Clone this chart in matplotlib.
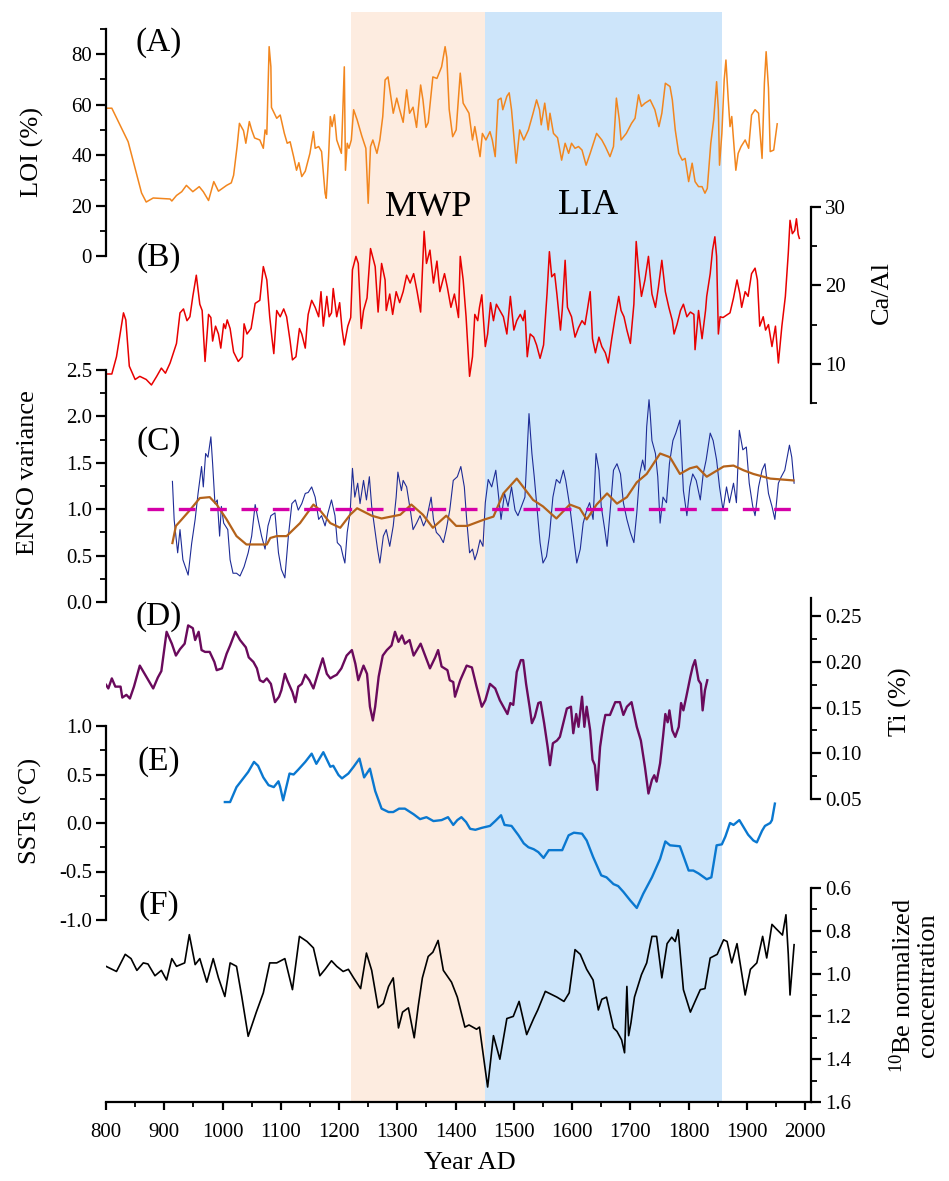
import matplotlib
matplotlib.use("Agg")
import matplotlib.pyplot as plt
from matplotlib.ticker import MultipleLocator, FormatStrFormatter

plt.rcParams['font.family'] = ['Liberation Serif', 'DejaVu Serif']
plt.rcParams['mathtext.fontset'] = 'custom'
plt.rcParams['mathtext.rm'] = 'Liberation Serif'
plt.rcParams['axes.unicode_minus'] = False

# ---- data ----
# (A) LOI (%)
loi_years = [800, 810, 838, 861, 869, 881, 910, 913, 921, 930, 938, 949, 960, 967, 976, 985, 993, 1007, 1015, 1019,
             1025, 1029, 1036, 1040, 1046, 1050, 1055, 1064, 1070, 1073, 1076, 1080, 1083, 1084, 1093, 1099, 1106, 1111,
             1116, 1122, 1127, 1131, 1136, 1142, 1150, 1156, 1159, 1165, 1170, 1176, 1178, 1182, 1185, 1188, 1192, 1196,
             1201, 1204, 1209, 1211, 1214, 1217, 1221, 1225, 1231, 1239, 1246, 1250, 1254, 1258, 1265, 1270, 1275, 1279,
             1284, 1288, 1293, 1299, 1304, 1310, 1316, 1321, 1327, 1333, 1340, 1344, 1349, 1353, 1361, 1368, 1376, 1382,
             1385, 1389, 1395, 1401, 1408, 1413, 1423, 1429, 1433, 1439, 1442, 1446, 1452, 1459, 1463, 1468, 1473, 1478,
             1481, 1488, 1492, 1496, 1504, 1510, 1517, 1525, 1533, 1539, 1544, 1547, 1553, 1559, 1562, 1568, 1575, 1582,
             1588, 1594, 1599, 1605, 1611, 1617, 1624, 1631, 1642, 1651, 1657, 1665, 1671, 1676, 1681, 1684, 1693, 1702,
             1708, 1714, 1719, 1725, 1734, 1742, 1749, 1754, 1760, 1768, 1772, 1777, 1783, 1789, 1794, 1800, 1806, 1811,
             1817, 1823, 1828, 1832, 1838, 1843, 1848, 1851, 1853, 1857, 1861, 1864, 1868, 1871, 1874, 1881, 1885, 1890,
             1897, 1903, 1908, 1914, 1920, 1926, 1930, 1933, 1937, 1940, 1946, 1952]
loi = [58.6, 58.6, 45.3, 25, 21.4, 23, 22.6, 21.8, 24, 25.5, 28, 25.5, 27.5, 25.5, 22, 29.5, 25.7, 28, 29, 32,
       43.4, 52.6, 49.7, 44.7, 53.3, 50, 46.8, 46, 42.7, 50, 48.2, 83, 75, 58.9, 54.6, 55.9, 48.7, 44.7,
       45.3, 39.4, 34, 37, 31.5, 33.6, 40.7, 49.3, 42.7, 43.4, 41.4, 24.9, 22.9, 39.4, 55.3, 51.3, 56, 46,
       42.7, 40.7, 75, 34, 44.7, 42.7, 46, 58, 54, 47.6, 42.7, 20.9, 43.4, 46, 40.7, 46, 55.3, 69.8,
       71, 64.7, 56.6, 62.6, 58, 53, 65.9, 56.6, 59, 51, 67.8, 61.9, 51, 52.9, 71, 70.4, 75, 83,
       78.6, 58.2, 47.3, 50, 72.5, 60.6, 56.6, 46, 51.3, 43.4, 39.4, 48.6, 46, 49.3, 46, 39.4, 61.9, 62.6,
       58, 63.3, 64.7, 58, 36.8, 50, 46, 50, 56.6, 61.9, 58, 52, 60.6, 50, 56.6, 48.6, 46.9, 38,
       44.7, 40.7, 44.7, 42.7, 43.4, 42, 36, 40.7, 48.6, 46, 43.4, 39.4, 43.4, 62.6, 54, 46, 48.6, 52.6,
       54.6, 63.9, 59.3, 60.6, 61.9, 58, 51.3, 56.6, 68.5, 67.2, 61.9, 50, 40.7, 38, 38.7, 29.5, 36.8, 29.5,
       27.5, 27.5, 24.9, 26.8, 44.7, 54, 69.1, 58, 36, 48.6, 69.8, 77.7, 61.9, 51.3, 55.3, 34, 40.7, 43.4,
       46, 42.7, 55.9, 58, 56.6, 38.7, 68.5, 81, 66.6, 41.4, 42, 52.4]

# (B) Ca/Al
caal_years = [800, 810, 818, 830, 834, 840, 850, 858, 869, 878, 887, 895, 902, 910, 921, 927, 933, 939, 944, 949,
              955, 961, 965, 970, 976, 980, 983, 988, 993, 997, 1002, 1005, 1008, 1013, 1019, 1027, 1034, 1037, 1042,
              1049, 1056, 1064, 1070, 1076, 1081, 1085, 1088, 1093, 1099, 1105, 1110, 1116, 1120, 1126, 1132, 1136,
              1142, 1145, 1147, 1153, 1159, 1165, 1169, 1173, 1179, 1183, 1187, 1190, 1196, 1201, 1205, 1209, 1215,
              1220, 1223, 1229, 1233, 1238, 1242, 1248, 1254, 1262, 1267, 1273, 1279, 1281, 1287, 1292, 1298, 1304,
              1310, 1316, 1322, 1328, 1334, 1340, 1346, 1350, 1356, 1362, 1368, 1373, 1381, 1386, 1392, 1398, 1405,
              1408, 1413, 1418, 1424, 1429, 1433, 1438, 1441, 1445, 1451, 1455, 1460, 1465, 1470, 1476, 1482, 1488,
              1494, 1500, 1505, 1511, 1516, 1519, 1523, 1528, 1534, 1539, 1545, 1551, 1557, 1561, 1565, 1570, 1574,
              1580, 1583, 1588, 1592, 1599, 1605, 1611, 1617, 1622, 1626, 1631, 1635, 1640, 1646, 1651, 1657, 1662,
              1668, 1674, 1680, 1684, 1689, 1694, 1700, 1706, 1710, 1714, 1719, 1725, 1731, 1737, 1743, 1748, 1754,
              1760, 1766, 1772, 1775, 1780, 1786, 1791, 1797, 1803, 1809, 1811, 1817, 1823, 1829, 1831, 1837, 1841,
              1845, 1848, 1851, 1854, 1859, 1871, 1877, 1883, 1888, 1891, 1897, 1902, 1908, 1914, 1918, 1922, 1928,
              1932, 1937, 1943, 1949, 1954, 1960, 1966, 1971, 1974, 1978, 1982, 1985, 1988, 1990]
caal = [8.7, 8.7, 10.9, 16.5, 15.6, 9.7, 8, 8.4, 8, 7.3, 8.4, 9.45, 8.8, 10.1, 12.6, 16.5, 17, 15.5, 16, 18.6,
        21.3, 17.6, 16.8, 10.3, 16.3, 15.9, 12.9, 14.8, 13.8, 12, 15.1, 14.5, 15.6, 14.5, 11.5, 10.3, 10.9, 15.1, 13.8,
        14.5, 17.7, 18.1, 22.4, 20.7, 16, 13.2, 11.3, 16.8, 16, 17, 16, 12.9, 10.5, 10.9, 14.5, 13.8,
        12, 14.8, 16.3, 18.1, 17.2, 16, 19.2, 14.8, 18.6, 16, 16.5, 19.6, 16, 17.8, 14.5, 12.4, 14.8,
        15.9, 22, 23.7, 22.8, 14.5, 16.8, 18.4, 24.7, 22.4, 16.6, 22.8, 20.7, 16.8, 18.9, 16.3, 19.2, 17.8,
        19.2, 21.3, 20.3, 21.5, 19.2, 16.6, 26.9, 22.8, 24.5, 20.3, 23.1, 19.2, 21.5, 19.7, 17.2, 18.9, 15.9,
        23.7, 20.7, 16, 8.4, 10.9, 16.3, 15.5, 17.2, 18.8, 12.2, 13.8, 17.8, 15.5, 17.6, 16.8, 16, 13.8,
        18.6, 14.3, 15.5, 16.3, 15.5, 16.8, 10.9, 13.8, 13.4, 12.4, 10.7, 12.4, 19, 24.3, 21.1, 21.5, 18.8,
        14.3, 16.8, 23.2, 17.2, 16, 13.4, 14.6, 15.5, 15, 16.8, 19.2, 13.2, 11.4, 13.4, 12.2, 11.4, 10.1,
        13.2, 16, 18.6, 16.8, 16, 14.3, 12.6, 17.6, 25.6, 22, 18.6, 20.7, 23.7, 18.9, 17.2, 19.7, 23.2,
        19.2, 17.2, 15.5, 13.8, 15, 16.8, 17.6, 16, 16.6, 16.3, 11.8, 16.8, 13.2, 16.8, 18.6, 21.5, 24.5,
        26.2, 23.7, 13.8, 16, 15.9, 16.5, 18.4, 20.7, 18.9, 17.2, 19.2, 18.6, 21.5, 22.2, 20.7, 14.8, 16,
        14.3, 15, 12.2, 14.8, 10.1, 14.8, 18.6, 24.1, 28.3, 26.6, 27, 28.5, 26.5, 26]

# (C) ENSO variance
enso_years = [914, 917, 920, 923, 927, 932, 941, 947, 953, 958, 964, 967, 971, 975, 980, 983, 987, 991, 995, 998,
              1002, 1009, 1013, 1018, 1024, 1030, 1037, 1044, 1050, 1056, 1061, 1067, 1073, 1078, 1083, 1090, 1096,
              1101, 1107, 1113, 1119, 1125, 1130, 1136, 1142, 1147, 1153, 1159, 1165, 1170, 1176, 1181, 1187, 1193,
              1197, 1203, 1207, 1210, 1214, 1219, 1223, 1227, 1232, 1236, 1242, 1247, 1252, 1256, 1262, 1266, 1270,
              1276, 1281, 1287, 1293, 1298, 1301, 1307, 1310, 1316, 1323, 1327, 1333, 1339, 1345, 1350, 1358, 1362,
              1367, 1373, 1379, 1384, 1390, 1396, 1403, 1409, 1415, 1419, 1424, 1429, 1433, 1437, 1442, 1447, 1451,
              1456, 1462, 1469, 1475, 1478, 1484, 1490, 1496, 1502, 1507, 1513, 1519, 1523, 1526, 1531, 1535, 1539,
              1545, 1550, 1556, 1561, 1567, 1573, 1579, 1585, 1589, 1596, 1603, 1608, 1614, 1619, 1625, 1630, 1636,
              1641, 1646, 1650, 1656, 1660, 1665, 1671, 1677, 1683, 1688, 1694, 1700, 1706, 1711, 1716, 1721, 1725,
              1728, 1732, 1734, 1737, 1743, 1747, 1751, 1756, 1762, 1767, 1773, 1778, 1785, 1788, 1791, 1797, 1802,
              1807, 1813, 1820, 1825, 1830, 1837, 1842, 1848, 1853, 1859, 1865, 1870, 1877, 1882, 1887, 1893, 1899,
              1904, 1910, 1914, 1920, 1926, 1931, 1937, 1943, 1948, 1954, 1959, 1965, 1973, 1977, 1981]
enso = [1.30, 0.886, 0.71, 0.53, 0.78, 0.455, 0.29, 0.63, 0.89, 1.17, 1.46, 1.24, 1.60, 1.56, 1.78, 1.49, 1.06, 1.1,
        0.71, 1.03, 0.85, 0.78, 0.455, 0.31, 0.31, 0.28, 0.38, 0.53, 0.71, 1.05, 0.89, 0.71, 0.57, 0.82, 0.93, 0.96,
        0.53, 0.35, 0.26, 0.71, 1.06, 1.1, 0.99, 1.06, 1.17, 1.18, 1.24, 1.13, 0.89, 0.93, 0.82, 0.96, 1.1, 0.93,
        0.64, 0.6, 0.49, 0.42, 0.75, 0.96, 1.44, 1.13, 1.28, 1.06, 1.31, 1.10, 1.35, 1.03, 0.75, 0.57, 0.42,
        0.71, 0.78, 0.6, 0.82, 1.13, 1.40, 1.2, 1.31, 1.24, 0.96, 0.78, 0.85, 0.93, 0.82, 0.89, 1.13, 0.89,
        0.75, 0.71, 0.64, 0.78, 0.99, 1.31, 1.35, 1.46, 1.24, 0.89, 0.53, 0.57, 0.455, 0.53, 0.67, 0.6, 1.07,
        1.32, 1.24, 1.42, 1.07, 0.89, 1.17, 1.03, 1.24, 0.99, 0.93, 1.03, 1.13, 1.64, 2.03, 1.60, 1.35, 1.07,
        0.64, 0.42, 0.49, 0.71, 1.13, 1.32, 1.28, 1.42, 1.31, 1.03, 0.67, 0.42, 0.57, 0.85, 0.99, 1.07, 0.89,
        1.60, 1.42, 1.03, 0.78, 0.6, 0.96, 1.42, 1.49, 1.38, 1.07, 0.89, 0.75, 0.64, 0.96, 1.38, 1.53, 1.42,
        1.89, 2.18, 2.03, 1.74, 1.6, 1.35, 0.85, 1.13, 1.07, 1.49, 1.74, 1.82, 1.96, 1.6, 1.2, 0.93, 1.24,
        1.38, 1.31, 1.1, 1.38, 1.53, 1.82, 1.74, 1.53, 1.24, 0.99, 1.24, 1.07, 1.28, 1.07, 1.85, 1.64, 1.67,
        1.28, 1.03, 0.93, 1.24, 1.42, 1.49, 1.17, 1.03, 0.89, 1.28, 1.35, 1.42, 1.69, 1.56, 1.28]
enso_smooth_years = [914, 920, 930, 944, 961, 978, 990, 1007, 1024, 1041, 1076, 1082, 1093, 1110, 1133, 1156, 1167,
                     1185, 1202, 1219, 1231, 1256, 1273, 1305, 1324, 1344, 1361, 1384, 1401, 1420, 1448, 1465, 1482,
                     1505, 1516, 1533, 1550, 1573, 1596, 1613, 1625, 1642, 1660, 1677, 1694, 1711, 1728, 1751, 1768,
                     1785, 1802, 1814, 1831, 1860, 1877, 1894, 1911, 1940, 1980]
enso_smooth = [0.635, 0.82, 0.89, 0.99, 1.12, 1.13, 1.05, 0.89, 0.71, 0.62, 0.62, 0.69, 0.71, 0.71, 0.85, 1.05, 0.99,
               0.85, 0.80, 0.94, 1.01, 0.93, 0.90, 0.94, 1.05, 0.94, 0.80, 0.93, 0.82, 0.82, 0.886, 0.92, 1.17,
               1.33, 1.24, 1.10, 1.03, 0.90, 1.05, 1.01, 0.89, 1.05, 1.17, 1.06, 1.13, 1.29, 1.38, 1.60, 1.56,
               1.38, 1.44, 1.46, 1.35, 1.46, 1.47, 1.42, 1.38, 1.33, 1.31]
enso_ref_years = [870, 1990]
enso_ref = [1.0, 1.0]

# (D) Ti (%)
ti_years = [800, 804, 810, 816, 825, 828, 835, 841, 848, 858, 870, 881, 889, 895, 904, 913, 920, 927, 935, 941,
            949, 953, 959, 964, 970, 978, 986, 990, 999, 1007, 1013, 1022, 1030, 1040, 1045, 1053, 1059, 1064, 1070,
            1076, 1083, 1090, 1097, 1101, 1107, 1111, 1120, 1125, 1130, 1136, 1142, 1149, 1156, 1165, 1172, 1179,
            1185, 1190, 1196, 1204, 1213, 1222, 1228, 1233, 1242, 1248, 1253, 1258, 1262, 1268, 1275, 1282, 1290,
            1296, 1302, 1308, 1313, 1321, 1328, 1340, 1349, 1356, 1365, 1370, 1376, 1386, 1390, 1396, 1399, 1408,
            1419, 1428, 1436, 1445, 1451, 1459, 1468, 1476, 1482, 1489, 1494, 1499, 1505, 1512, 1516, 1521, 1527,
            1531, 1536, 1542, 1546, 1552, 1558, 1562, 1567, 1574, 1579, 1586, 1591, 1598, 1602, 1607, 1611, 1617,
            1621, 1625, 1631, 1635, 1639, 1643, 1648, 1653, 1657, 1665, 1674, 1682, 1688, 1694, 1702, 1711, 1718,
            1725, 1731, 1737, 1741, 1745, 1751, 1756, 1760, 1764, 1767, 1772, 1777, 1783, 1787, 1791, 1796, 1803,
            1807, 1811, 1817, 1821, 1824, 1828, 1832]
ti = [0.175, 0.171, 0.182, 0.173, 0.173, 0.161, 0.164, 0.160, 0.173, 0.196, 0.183, 0.171, 0.183, 0.19, 0.233, 0.220,
      0.207, 0.214, 0.22, 0.240, 0.237, 0.224, 0.233, 0.213, 0.211, 0.211, 0.20, 0.191, 0.193, 0.209, 0.218, 0.233,
      0.224, 0.216, 0.205, 0.20, 0.193, 0.180, 0.178, 0.182, 0.176, 0.156, 0.162, 0.169, 0.187, 0.18, 0.167, 0.156,
      0.173, 0.176, 0.186, 0.18, 0.171, 0.19, 0.204, 0.187, 0.182, 0.184, 0.186, 0.193, 0.207, 0.213, 0.198, 0.180,
      0.196, 0.187, 0.151, 0.136, 0.151, 0.184, 0.207, 0.213, 0.218, 0.233, 0.222, 0.229, 0.22, 0.224, 0.207, 0.22,
      0.205, 0.193, 0.205, 0.213, 0.195, 0.191, 0.18, 0.178, 0.162, 0.18, 0.196, 0.194, 0.173, 0.151, 0.158, 0.176,
      0.171, 0.158, 0.151, 0.143, 0.155, 0.153, 0.189, 0.202, 0.202, 0.176, 0.151, 0.133, 0.140, 0.155, 0.156,
      0.133, 0.107, 0.087, 0.111, 0.114, 0.118, 0.136, 0.149, 0.151, 0.122, 0.143, 0.129, 0.162, 0.129, 0.151,
      0.125, 0.093, 0.087, 0.060, 0.107, 0.129, 0.142, 0.142, 0.156, 0.156, 0.142, 0.151, 0.156, 0.129, 0.114,
      0.085, 0.056, 0.071, 0.076, 0.069, 0.089, 0.118, 0.143, 0.134, 0.147, 0.125, 0.118, 0.129, 0.155, 0.147,
      0.162, 0.184, 0.195, 0.202, 0.18, 0.176, 0.147, 0.169, 0.18]

# (E) SSTs (degC)
sst_years = [1004, 1013, 1024, 1033, 1044, 1054, 1061, 1070, 1079, 1088, 1096, 1099, 1104, 1115, 1122, 1130, 1142,
             1153, 1161, 1173, 1185, 1190, 1199, 1205, 1216, 1225, 1235, 1243, 1253, 1262, 1273, 1285, 1293, 1303,
             1313, 1328, 1339, 1350, 1362, 1376, 1387, 1396, 1403, 1410, 1418, 1425, 1434, 1445, 1459, 1468, 1478,
             1484, 1496, 1508, 1517, 1525, 1534, 1542, 1551, 1560, 1574, 1583, 1594, 1603, 1617, 1625, 1636, 1650,
             1659, 1671, 1679, 1688, 1700, 1711, 1722, 1737, 1751, 1760, 1768, 1785, 1800, 1808, 1817, 1831, 1839,
             1848, 1857, 1863, 1871, 1877, 1887, 1894, 1902, 1911, 1917, 1926, 1931, 1940, 1943, 1948]
sst = [0.216, 0.216, 0.37, 0.44, 0.526, 0.63, 0.59, 0.47, 0.39, 0.37, 0.43, 0.37, 0.234, 0.51, 0.5, 0.55, 0.63,
       0.715, 0.61, 0.73, 0.58, 0.59, 0.495, 0.46, 0.51, 0.58, 0.664, 0.47, 0.56, 0.33, 0.148, 0.113, 0.113, 0.148,
       0.148, 0.09, 0.04, 0.06, 0.02, 0.03, 0.06, -0.02, 0.03, 0.06, 0.01, -0.06, -0.07, -0.05, -0.03, 0.02, 0.08,
       -0.02, -0.03, -0.127, -0.21, -0.25, -0.27, -0.30, -0.36, -0.28, -0.28, -0.28, -0.127, -0.1, -0.11, -0.18,
       -0.35, -0.54, -0.56, -0.63, -0.65, -0.71, -0.80, -0.876, -0.73, -0.56, -0.37, -0.19, -0.23, -0.24, -0.49,
       -0.49, -0.52, -0.58, -0.56, -0.23, -0.22, -0.14, 0.0, -0.02, 0.03, -0.04, -0.12, -0.18, -0.20, -0.08, -0.03,
       0.0, 0.03, 0.2]

# (F) 10Be normalized concentration
be_years = [800, 818, 833, 843, 853, 864, 872, 884, 895, 904, 913, 921, 935, 943, 953, 961, 973, 984, 993, 1004,
            1013, 1024, 1033, 1044, 1058, 1070, 1081, 1093, 1107, 1120, 1132, 1145, 1156, 1167, 1176, 1187, 1196,
            1207, 1216, 1225, 1237, 1247, 1256, 1267, 1276, 1285, 1293, 1302, 1309, 1319, 1329, 1336, 1343, 1353,
            1361, 1370, 1379, 1393, 1403, 1416, 1423, 1436, 1441, 1455, 1465, 1476, 1488, 1499, 1509, 1522, 1534,
            1541, 1554, 1574, 1586, 1595, 1605, 1614, 1625, 1636, 1645, 1651, 1659, 1671, 1677, 1685, 1690, 1694,
            1697, 1701, 1707, 1719, 1728, 1737, 1745, 1754, 1763, 1771, 1777, 1782, 1791, 1803, 1811, 1820, 1828,
            1837, 1849, 1860, 1866, 1874, 1883, 1897, 1906, 1917, 1927, 1934, 1943, 1950, 1961, 1967, 1971, 1974,
            1981]
be = [0.966, 0.99, 0.91, 0.93, 0.985, 0.95, 0.955, 1.01, 0.985, 1.03, 0.93, 0.966, 0.95, 0.818, 0.958, 0.93, 1.04,
      0.93, 1.02, 1.107, 0.95, 0.966, 1.107, 1.293, 1.18, 1.09, 0.95, 0.95, 0.93, 1.075, 0.826, 0.85, 0.88, 1.01,
      0.98, 0.94, 0.966, 0.99, 0.98, 1.02, 1.07, 0.904, 0.985, 1.16, 1.14, 1.06, 1.02, 1.254, 1.18, 1.16, 1.30,
      1.15, 1.02, 0.92, 0.90, 0.845, 0.985, 1.04, 1.11, 1.25, 1.24, 1.26, 1.25, 1.53, 1.29, 1.40, 1.21, 1.2, 1.13,
      1.285, 1.21, 1.17, 1.083, 1.11, 1.13, 1.09, 0.888, 0.91, 0.98, 1.03, 1.17, 1.12, 1.11, 1.254, 1.27, 1.31,
      1.37, 1.06, 1.29, 1.23, 1.11, 1.005, 0.95, 0.826, 0.826, 1.02, 0.86, 0.83, 0.85, 0.795, 1.075, 1.18, 1.13,
      1.075, 1.07, 0.927, 0.91, 0.842, 0.85, 0.95, 0.86, 1.10, 0.98, 0.95, 0.826, 0.927, 0.77, 0.79, 0.82, 0.725,
      0.91, 1.10, 0.865]

# climate periods
mwp = (1220, 1450)
lia = (1450, 1857)

# ---- layout (pixels of the 949 x 1181 picture) ----
W, H = 949, 1181
X0, X1 = 106, 811
XLIM = (800, 2010)


def rect(top, bottom):
    return [X0 / W, 1 - bottom / H, (X1 - X0) / W, (bottom - top) / H]


def fpos(x, y):
    return x / W, 1 - y / H


def style(ax, side, major, minor, fmt):
    ax.set_facecolor('none')
    ax.set_xlim(*XLIM)
    for s in ax.spines:
        ax.spines[s].set_visible(False)
    ax.spines[side].set_visible(True)
    ax.spines[side].set_linewidth(1.6)
    ax.yaxis.set_ticks_position(side)
    ax.yaxis.set_major_locator(MultipleLocator(major))
    ax.yaxis.set_minor_locator(MultipleLocator(minor))
    ax.yaxis.set_major_formatter(FormatStrFormatter(fmt))
    ax.tick_params(axis='y', which='major', direction='out', length=7, width=1.6, labelsize=15, pad=3)
    ax.tick_params(axis='y', which='minor', direction='out', length=4, width=1.3)
    ax.tick_params(axis='x', which='both', bottom=False, labelbottom=False)


fig = plt.figure(figsize=(W / 100, H / 100), dpi=100)

# shaded periods behind everything
bg = fig.add_axes(rect(12, 1102))
bg.set_xlim(*XLIM)
bg.axvspan(mwp[0], mwp[1], color='#FDECE0', lw=0)
bg.axvspan(lia[0], lia[1], color='#CDE5FA', lw=0)
bg.axis('off')

# (A)
axA = fig.add_axes(rect(29, 256))
style(axA, 'left', 20, 10, '%d')
axA.set_ylim(0, 90)
axA.set_yticks([0, 20, 40, 60, 80])
axA.plot(loi_years, loi, color='#F2861E', lw=1.1)

# (B)
axB = fig.add_axes(rect(207, 403))
style(axB, 'right', 10, 5, '%d')
axB.set_ylim(5, 30)
axB.plot(caal_years, caal, color='#E80000', lw=1.1)

# (C)
axC = fig.add_axes(rect(370, 602))
style(axC, 'left', 0.5, 0.25, '%.1f')
axC.set_ylim(0, 2.5)
axC.plot(enso_years, enso, color='#1E2C96', lw=0.8)
axC.plot(enso_smooth_years, enso_smooth, color='#B4621A', lw=1.6)
axC.plot(enso_ref_years, enso_ref, color='#D400A8', lw=2.4, dashes=(5.0, 4.4))

# (D)
axD = fig.add_axes(rect(598, 799))
style(axD, 'right', 0.05, 0.025, '%.2f')
axD.set_ylim(0.05, 0.27)
axD.plot(ti_years, ti, color='#6A0A5C', lw=1.7)

# (E)
axE = fig.add_axes(rect(726, 920))
style(axE, 'left', 0.5, 0.25, '%.1f')
axE.set_ylim(-1.0, 1.0)
axE.plot(sst_years, sst, color='#0A78D0', lw=1.7)

# (F) with the shared year axis
axF = fig.add_axes(rect(888, 1102))
style(axF, 'right', 0.2, 0.1, '%.1f')
axF.set_ylim(1.6, 0.6)
axF.spines['bottom'].set_visible(True)
axF.spines['bottom'].set_linewidth(1.6)
axF.xaxis.set_major_locator(MultipleLocator(100))
axF.xaxis.set_minor_locator(MultipleLocator(50))
axF.set_xticks(range(800, 2001, 100))
axF.tick_params(axis='x', which='major', bottom=True, labelbottom=True, direction='out',
                length=6, width=1.6, labelsize=15, pad=9)
axF.tick_params(axis='x', which='minor', bottom=True, direction='out', length=3.5, width=1.3)
axF.plot(be_years, be, color='black', lw=1.2)

# panel letters
for lab, y in [('(A)', 43), ('(B)', 258), ('(C)', 442), ('(D)', 617), ('(E)', 762), ('(F)', 906)]:
    fig.text(*fpos(159, y), lab, fontsize=24, ha='center', va='center')

fig.text(*fpos(428, 207), 'MWP', fontsize=26, ha='center', va='center')
fig.text(*fpos(588, 206), 'LIA', fontsize=26, ha='center', va='center')

# axis titles
fig.text(*fpos(32, 152), 'LOI (%)', fontsize=19, rotation=90, ha='center', va='center')
fig.text(*fpos(882, 293), 'Ca/Al', fontsize=19, rotation=90, ha='center', va='center')
fig.text(*fpos(28, 473), 'ENSO variance', fontsize=19, rotation=90, ha='center', va='center')
fig.text(*fpos(900, 702), 'Ti (%)', fontsize=19, rotation=90, ha='center', va='center')
fig.text(*fpos(30, 811), 'SSTs (°C)', fontsize=19, rotation=90, ha='center', va='center')
fig.text(*fpos(914, 985), '$\\mathregular{^{10}}$Be normalized\nconcentration', fontsize=19,
         rotation=90, ha='center', va='center', multialignment='center', linespacing=1.1)
fig.text(*fpos(470, 1163), 'Year AD', fontsize=19, ha='center', va='center')

fig.savefig('out.png', dpi=100)
